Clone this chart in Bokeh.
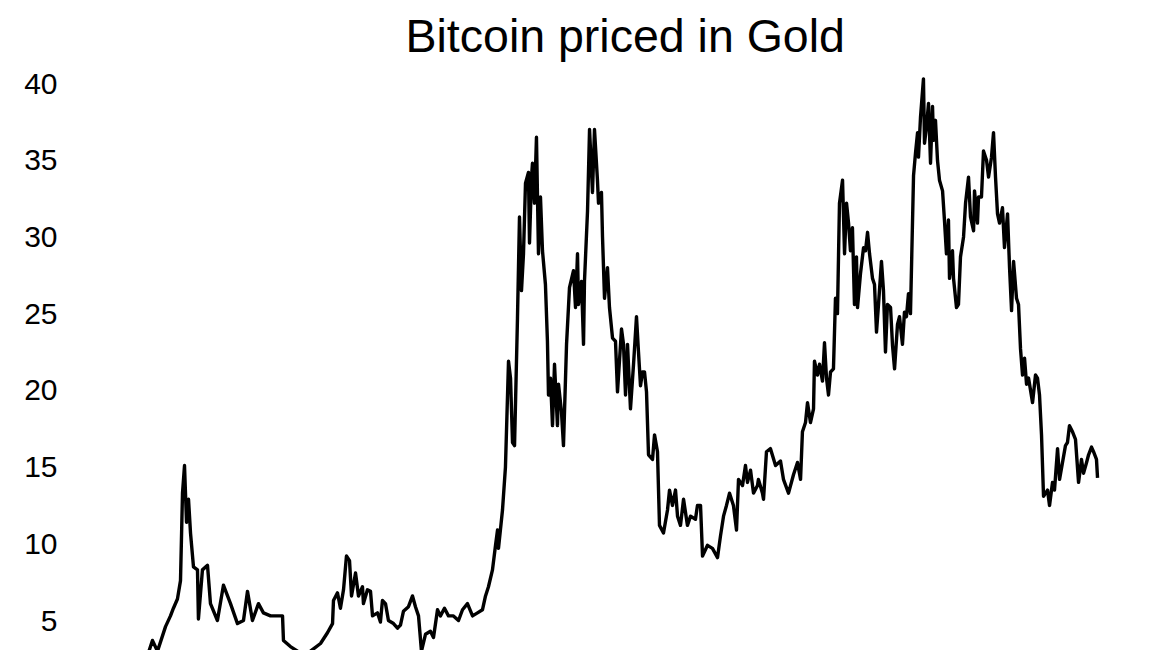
from bokeh.plotting import figure
from bokeh.models import ColumnDataSource, FixedTicker, Range1d
from bokeh.embed import file_html
from bokeh.resources import INLINE

title_text = "Bitcoin priced in Gold"
y_ticks = [0, 5, 10, 15, 20, 25, 30, 35, 40]

years = [
    2017.609, 2017.656, 2017.704, 2017.780, 2017.827, 2017.855, 2017.893, 2017.922, 2017.941, 2017.960,
    2017.979, 2017.998, 2018.017, 2018.045, 2018.083, 2018.092, 2018.130, 2018.178, 2018.206, 2018.272,
    2018.329, 2018.396, 2018.462, 2018.519, 2018.557, 2018.604, 2018.661, 2018.708, 2018.775, 2018.851,
    2018.889, 2018.898, 2018.964, 2019.031, 2019.059, 2019.154, 2019.249, 2019.315, 2019.363, 2019.372,
    2019.410, 2019.438, 2019.467, 2019.495, 2019.524, 2019.543, 2019.581, 2019.609, 2019.647, 2019.656,
    2019.694, 2019.723, 2019.742, 2019.789, 2019.817, 2019.836, 2019.865, 2019.893, 2019.941, 2019.979,
    2020.007, 2020.035, 2020.083, 2020.121, 2020.149, 2020.178, 2020.206, 2020.244, 2020.291, 2020.320,
    2020.358, 2020.386, 2020.424, 2020.462, 2020.509, 2020.557, 2020.595, 2020.642, 2020.690, 2020.737,
    2020.784, 2020.813, 2020.841, 2020.879, 2020.908, 2020.927, 2020.936, 2020.974, 2021.002, 2021.031,
    2021.050, 2021.069, 2021.088, 2021.116, 2021.135, 2021.154, 2021.173, 2021.192, 2021.220, 2021.230,
    2021.249, 2021.258, 2021.277, 2021.296, 2021.315, 2021.334, 2021.353, 2021.381, 2021.400, 2021.410,
    2021.429, 2021.448, 2021.467, 2021.495, 2021.505, 2021.533, 2021.552, 2021.581, 2021.609, 2021.647,
    2021.666, 2021.685, 2021.694, 2021.723, 2021.742, 2021.751, 2021.780, 2021.799, 2021.827, 2021.846,
    2021.874, 2021.884, 2021.912, 2021.922, 2021.941, 2021.969, 2021.988, 2022.017, 2022.045, 2022.064,
    2022.102, 2022.121, 2022.140, 2022.159, 2022.187, 2022.216, 2022.244, 2022.263, 2022.282, 2022.301,
    2022.320, 2022.339, 2022.358, 2022.396, 2022.415, 2022.443, 2022.462, 2022.500, 2022.538, 2022.557,
    2022.585, 2022.614, 2022.633, 2022.661, 2022.690, 2022.727, 2022.756, 2022.803, 2022.822, 2022.851,
    2022.870, 2022.917, 2022.964, 2023.012, 2023.040, 2023.069, 2023.097, 2023.126, 2023.163, 2023.192,
    2023.211, 2023.249, 2023.277, 2023.296, 2023.325, 2023.353, 2023.391, 2023.400, 2023.438, 2023.448,
    2023.476, 2023.514, 2023.562, 2023.609, 2023.637, 2023.685, 2023.732, 2023.770, 2023.799, 2023.817,
    2023.846, 2023.865, 2023.893, 2023.922, 2023.931, 2023.960, 2023.979, 2024.007, 2024.026, 2024.045,
    2024.064, 2024.083, 2024.111, 2024.130, 2024.149, 2024.168, 2024.197, 2024.216, 2024.235, 2024.254,
    2024.272, 2024.291, 2024.310, 2024.329, 2024.339, 2024.367, 2024.396, 2024.415, 2024.434, 2024.453,
    2024.481, 2024.500, 2024.519, 2024.538, 2024.566, 2024.585, 2024.604, 2024.623, 2024.652, 2024.671,
    2024.690, 2024.718, 2024.737, 2024.765, 2024.784, 2024.803, 2024.822, 2024.841, 2024.870, 2024.889,
    2024.908, 2024.917, 2024.936, 2024.964, 2024.974, 2024.993, 2025.012, 2025.031, 2025.050, 2025.059,
    2025.078, 2025.097, 2025.116, 2025.145, 2025.163, 2025.182, 2025.201, 2025.211, 2025.239, 2025.249,
    2025.277, 2025.296, 2025.315, 2025.344, 2025.363, 2025.391, 2025.410, 2025.439, 2025.448, 2025.476,
    2025.486, 2025.514, 2025.533, 2025.562, 2025.581, 2025.609, 2025.628, 2025.647, 2025.666, 2025.685,
    2025.713, 2025.732, 2025.761, 2025.780, 2025.799, 2025.818, 2025.846, 2025.865, 2025.884, 2025.903,
    2025.922, 2025.941, 2025.960, 2025.998, 2026.026, 2026.045, 2026.064, 2026.083, 2026.102, 2026.140,
    2026.159, 2026.187, 2026.206, 2026.235, 2026.254, 2026.282, 2026.310, 2026.329, 2026.348, 2026.377,
    2026.405, 2026.434, 2026.462, 2026.481, 2026.510, 2026.529, 2026.557, 2026.576, 2026.604, 2026.614,
]

btc_in_gold = [
    2.7, 3.7, 3.0, 4.6, 5.3, 5.8, 6.4, 7.6, 13.3, 15.1,
    11.4, 12.9, 10.7, 8.5, 8.3, 5.1, 8.3, 8.6, 6.1, 5.0,
    7.3, 6.1, 4.8, 5.0, 6.9, 5.0, 6.1, 5.5, 5.3, 5.3,
    5.3, 3.7, 3.3, 3.0, 2.7, 3.0, 3.5, 4.2, 4.8, 6.3,
    6.8, 5.8, 7.0, 9.2, 8.9, 6.6, 8.1, 6.6, 7.2, 6.1,
    7.0, 6.9, 5.3, 5.5, 4.9, 6.3, 6.1, 5.0, 4.8, 4.5,
    4.7, 5.6, 5.9, 6.6, 5.9, 5.3, 3.0, 4.1, 4.3, 3.9,
    5.7, 5.3, 5.8, 5.3, 5.3, 5.0, 5.7, 6.1, 5.3, 5.5,
    5.7, 6.6, 7.2, 8.3, 9.9, 10.9, 9.7, 12.2, 15.0, 21.9,
    20.8, 16.6, 16.4, 24.7, 31.3, 26.5, 28.9, 33.5, 34.2, 29.6,
    33.9, 34.8, 32.2, 36.5, 28.9, 32.6, 29.1, 26.9, 23.2, 19.7,
    20.8, 17.7, 21.7, 17.7, 20.4, 18.6, 16.4, 23.0, 26.7, 27.8,
    25.4, 28.9, 25.6, 27.1, 23.0, 27.1, 31.7, 37.0, 32.9, 37.0,
    33.7, 32.2, 32.9, 30.0, 26.0, 28.0, 25.4, 23.4, 23.2, 19.9,
    24.0, 23.0, 19.7, 23.0, 18.8, 21.7, 24.8, 22.5, 20.3, 21.2,
    21.2, 19.9, 15.8, 15.5, 17.1, 16.0, 11.2, 10.7, 12.2, 13.5,
    12.5, 13.5, 11.8, 11.2, 12.9, 11.2, 11.8, 11.6, 12.5, 12.5,
    9.2, 9.9, 9.7, 9.1, 10.5, 11.8, 12.5, 13.3, 12.5, 10.9,
    14.2, 13.8, 15.1, 14.0, 14.8, 13.3, 13.8, 14.2, 13.3, 12.9,
    16.0, 16.2, 15.1, 15.4, 14.2, 13.3, 14.5, 15.3, 14.2, 17.3,
    17.9, 19.2, 17.9, 18.8, 21.9, 21.0, 21.7, 20.6, 23.1, 20.8,
    19.7, 21.2, 21.4, 26.0, 25.0, 32.2, 33.7, 28.9, 32.2, 30.9,
    29.1, 30.6, 25.6, 28.7, 25.4, 27.6, 29.3, 29.1, 30.3, 28.9,
    27.3, 26.9, 23.8, 25.6, 28.4, 26.5, 22.5, 25.6, 25.4, 22.9,
    21.4, 24.3, 24.8, 23.0, 25.1, 24.8, 26.3, 25.0, 34.0, 35.5,
    36.8, 35.2, 37.8, 40.3, 36.1, 37.2, 38.7, 34.8, 38.5, 36.3,
    37.6, 35.0, 33.7, 33.0, 31.1, 28.9, 31.1, 27.3, 29.1, 27.3,
    25.4, 25.6, 28.7, 30.0, 32.2, 33.9, 31.3, 30.4, 33.0, 30.9,
    32.6, 32.6, 35.6, 35.0, 33.9, 35.2, 36.8, 33.9, 31.5, 30.9,
    31.9, 29.3, 31.5, 28.0, 25.2, 28.4, 26.0, 25.6, 22.7, 21.0,
    22.1, 20.4, 20.8, 19.2, 21.0, 20.8, 19.7, 17.1, 13.1, 13.5,
    12.5, 14.0, 13.5, 16.2, 14.2, 15.3, 16.4, 16.6, 17.7, 17.3,
    16.8, 14.0, 15.5, 14.6, 15.3, 15.8, 16.3, 16.0, 15.5, 14.3,
]

source = ColumnDataSource(data=dict(year=years, value=btc_in_gold))

p = figure(
    width=1150, height=650,
    output_backend="svg", toolbar_location=None,
    x_range=Range1d(2016.832, 2027.116),
    y_range=Range1d(3.045, 41.108),
    min_border_left=65, min_border_right=0,
    min_border_top=66, min_border_bottom=0,
    background_fill_color="white", border_fill_color="white",
)

p.line("year", "value", source=source, line_color="black", line_width=3.4,
       line_join="round")

p.title.text = title_text
p.title.text_font = "Liberation Sans"
p.title.text_font_size = "46.5px"
p.title.text_font_style = "normal"
p.title.text_color = "black"
p.title.align = "left"
p.title.offset = 340

p.outline_line_color = None
p.xgrid.visible = False
p.ygrid.visible = False
p.xaxis.visible = False

p.yaxis.ticker = FixedTicker(ticks=y_ticks)
p.yaxis.axis_line_color = None
p.yaxis.major_tick_line_color = None
p.yaxis.minor_tick_line_color = None
p.yaxis.major_tick_in = 0
p.yaxis.major_tick_out = 0
p.yaxis.major_label_standoff = 8
p.yaxis.major_label_text_font = "Liberation Sans"
p.yaxis.major_label_text_font_size = "30px"
p.yaxis.major_label_text_color = "black"

open("out.html", "w").write(file_html(p, INLINE))
